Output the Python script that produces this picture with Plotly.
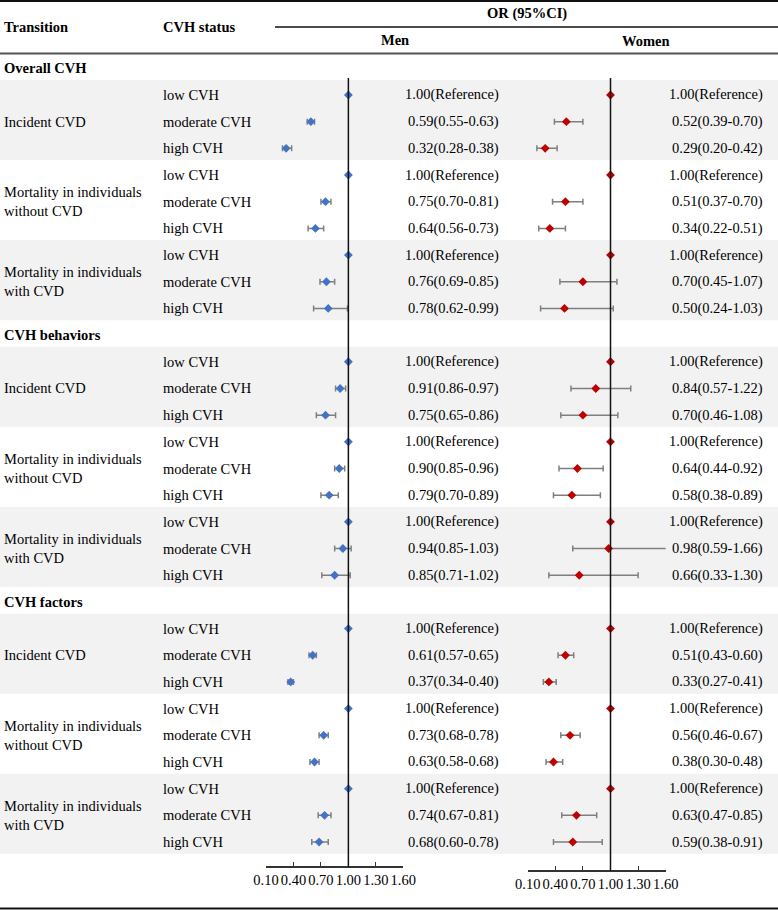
import plotly.graph_objects as go

# ---------------- data ----------------
sections = ["Overall CVH", "CVH behaviors", "CVH factors"]
transitions = ["Incident CVD",
               "Mortality in individuals<br>without CVD",
               "Mortality in individuals<br>with CVD"]
statuses = ["low CVH", "moderate CVH", "high CVH"]

men_or = [1.00, 0.59, 0.32, 1.00, 0.75, 0.64, 1.00, 0.76, 0.78,
          1.00, 0.91, 0.75, 1.00, 0.90, 0.79, 1.00, 0.94, 0.85,
          1.00, 0.61, 0.37, 1.00, 0.73, 0.63, 1.00, 0.74, 0.68]
men_lo = [1.00, 0.55, 0.28, 1.00, 0.70, 0.56, 1.00, 0.69, 0.62,
          1.00, 0.86, 0.65, 1.00, 0.85, 0.70, 1.00, 0.85, 0.71,
          1.00, 0.57, 0.34, 1.00, 0.68, 0.58, 1.00, 0.67, 0.60]
men_hi = [1.00, 0.63, 0.38, 1.00, 0.81, 0.73, 1.00, 0.85, 0.99,
          1.00, 0.97, 0.86, 1.00, 0.96, 0.89, 1.00, 1.03, 1.02,
          1.00, 0.65, 0.40, 1.00, 0.78, 0.68, 1.00, 0.81, 0.78]

women_or = [1.00, 0.52, 0.29, 1.00, 0.51, 0.34, 1.00, 0.70, 0.50,
            1.00, 0.84, 0.70, 1.00, 0.64, 0.58, 1.00, 0.98, 0.66,
            1.00, 0.51, 0.33, 1.00, 0.56, 0.38, 1.00, 0.63, 0.59]
women_lo = [1.00, 0.39, 0.20, 1.00, 0.37, 0.22, 1.00, 0.45, 0.24,
            1.00, 0.57, 0.46, 1.00, 0.44, 0.38, 1.00, 0.59, 0.33,
            1.00, 0.43, 0.27, 1.00, 0.46, 0.30, 1.00, 0.47, 0.38]
women_hi = [1.00, 0.70, 0.42, 1.00, 0.70, 0.51, 1.00, 1.07, 1.03,
            1.00, 1.22, 1.08, 1.00, 0.92, 0.89, 1.00, 1.66, 1.30,
            1.00, 0.60, 0.41, 1.00, 0.67, 0.48, 1.00, 0.85, 0.91]

tick_vals = [0.10, 0.40, 0.70, 1.00, 1.30, 1.60]
tick_text = ["0.10", "0.40", "0.70", "1.00", "1.30", "1.60"]

# ---------------- layout helpers ----------------
W, H = 778, 910
FONT = "Liberation Serif, Times New Roman, serif"
FS = 14.5
ROW0_PX, PITCH = 68.3, 26.68


def px(x):
    return x / W


def py(y):
    return 1 - y / H


def fmt(o, l, h):
    if o == 1.0 and l == 1.0 and h == 1.0:
        return "1.00(Reference)"
    return f"{o:.2f}({l:.2f}-{h:.2f})"


rows = []          # row index for each data point
trans_rows = []    # row index for transition label
band_rows = []     # (first, last) rows for gray bands
sec_rows = []
for s in range(3):
    base = s * 10
    sec_rows.append(base)
    for t in range(3):
        first = base + 1 + t * 3
        trans_rows.append(first + 1)
        if t != 1:
            band_rows.append((first, first + 2))
        for k in range(3):
            rows.append(first + k)

fig = go.Figure()

# men trace
fig.add_trace(go.Scatter(
    x=men_or, y=rows, xaxis="x", yaxis="y", mode="markers",
    marker=dict(symbol="diamond", size=6.8, color="#4472C4"),
    error_x=dict(type="data", symmetric=False,
                 array=[h - o for h, o in zip(men_hi, men_or)],
                 arrayminus=[o - l for o, l in zip(men_or, men_lo)],
                 color="#7F7F7F", thickness=1.5, width=3),
    cliponaxis=False, showlegend=False, hoverinfo="skip"))

# women trace
fig.add_trace(go.Scatter(
    x=women_or, y=rows, xaxis="x2", yaxis="y", mode="markers",
    marker=dict(symbol="diamond", size=6.8, color="#C00000"),
    error_x=dict(type="data", symmetric=False,
                 array=[h - o for h, o in zip(women_hi, women_or)],
                 arrayminus=[o - l for o, l in zip(women_or, women_lo)],
                 color="#7F7F7F", thickness=1.5, width=3),
    cliponaxis=False, showlegend=False, hoverinfo="skip"))

shapes = []
for a, b in band_rows:
    shapes.append(dict(type="rect", xref="paper", yref="y", x0=0, x1=1,
                       y0=a - 0.56, y1=b + 0.44, fillcolor="#F2F2F2",
                       line=dict(width=0), layer="below"))
# reference lines at OR = 1
shapes.append(dict(type="line", xref="x", yref="paper", x0=1, x1=1,
                   y0=py(867), y1=py(78), line=dict(color="#111111", width=1.5)))
shapes.append(dict(type="line", xref="x2", yref="paper", x0=1, x1=1,
                   y0=py(870.7), y1=py(78), line=dict(color="#111111", width=1.5)))
# table rules
shapes.append(dict(type="line", xref="paper", yref="paper", x0=0, x1=1,
                   y0=py(1), y1=py(1), line=dict(color="#111111", width=2)))
shapes.append(dict(type="line", xref="paper", yref="paper", x0=px(275), x1=1,
                   y0=py(27), y1=py(27), line=dict(color="#111111", width=1.5)))
shapes.append(dict(type="line", xref="paper", yref="paper", x0=0, x1=1,
                   y0=py(53.5), y1=py(53.5), line=dict(color="#555555", width=2.2)))
shapes.append(dict(type="line", xref="paper", yref="paper", x0=0, x1=1,
                   y0=py(908.5), y1=py(908.5), line=dict(color="#111111", width=2)))

ann = []


def text(t, x, y, xanchor="left", bold=False, yref="paper", align="left"):
    ann.append(dict(text=f"<b>{t}</b>" if bold else t, x=x, y=y,
                    xref="paper", yref=yref, xanchor=xanchor, yanchor="middle",
                    align=align, showarrow=False, borderpad=0,
                    font=dict(family=FONT, size=FS, color="#000000")))


# header
text("Transition", px(3), py(27), bold=True)
text("CVH status", px(162), py(27), bold=True)
text("OR (95%CI)", px(527), py(14), xanchor="center", bold=True)
text("Men", px(395), py(40.5), xanchor="center", bold=True)
text("Women", px(646), py(41), xanchor="center", bold=True)

for s, r in zip(sections, sec_rows):
    text(s, px(3), r, bold=True, yref="y")
for t, r in zip(transitions * 3, trans_rows):
    text(t, px(3), r, yref="y")
for i, r in enumerate(rows):
    text(statuses[i % 3], px(162), r, yref="y")
    text(fmt(men_or[i], men_lo[i], men_hi[i]), px(499.5), r, xanchor="right", yref="y")
    text(fmt(women_or[i], women_lo[i], women_hi[i]), px(763.5), r, xanchor="right", yref="y")

axis_common = dict(range=[0.1, 1.6], tickvals=tick_vals, ticktext=tick_text,
                   ticks="inside", ticklen=4, tickwidth=1.3, tickcolor="#333333",
                   showline=True, linecolor="#333333", linewidth=1.5,
                   showgrid=False, zeroline=False, anchor="free", tickangle=0,
                   automargin=False,
                   tickfont=dict(family=FONT, size=FS, color="#000000"),
                   fixedrange=True)

fig.update_layout(
    width=W, height=H, autosize=False,
    margin=dict(l=0, r=0, t=0, b=0, pad=0, autoexpand=False),
    paper_bgcolor="white", plot_bgcolor="rgba(0,0,0,0)",
    xaxis=dict(domain=[px(266), px(403.3)], position=py(867), **axis_common),
    xaxis2=dict(domain=[px(527.7), px(665.7)], position=py(870.7), **axis_common),
    yaxis=dict(domain=[0, 1], range=[(H - ROW0_PX) / PITCH, -ROW0_PX / PITCH],
               visible=False, showgrid=False, zeroline=False, fixedrange=True,
               automargin=False),
    shapes=shapes, annotations=ann,
)

fig.write_html("out.html",
               config={"displayModeBar": False},
               post_script="document.body.style.margin='0';"
                           "document.body.style.overflow='hidden';")
